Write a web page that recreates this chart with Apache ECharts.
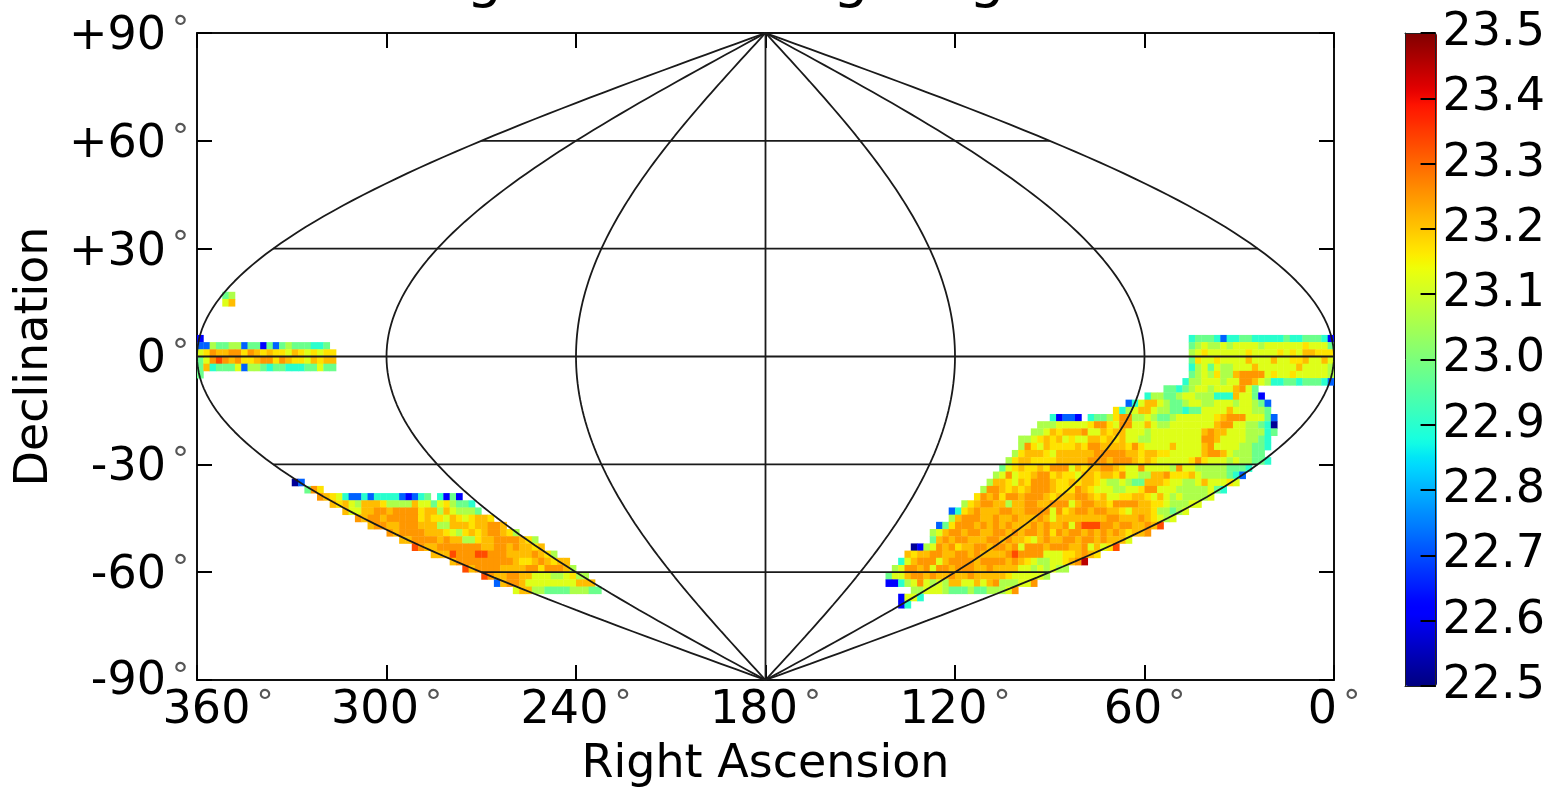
<!DOCTYPE html>
<html>
<head>
<meta charset="utf-8">
<style>html,body{margin:0;padding:0;background:#fff}#c{width:1548px;height:793px}</style>
<script src="https://cdn.jsdelivr.net/npm/echarts@6/dist/echarts.min.js"></script>
</head>
<body>
<div id="c"></div>
<script>
// magnitude read for each code used in the row strings
const levelValues = {a:22.52,'0':22.62,'1':22.72,'2':22.9,'3':22.98,'4':23.06,'5':23.12,'6':23.17,'7':23.21,'8':23.25,'9':23.33,b:23.45};
// declination of each row's upper edge, projected RA of its left edge, cell codes left to right ('_' = empty)
const rowDec = [18,16,6,4,2,0,-2,-4,
  -34,-36,-38,-40,-42,-44,-46,-48,-50,-52,-54,-56,-58,-60,-62,-64,
  6,4,2,0,-2,-4,-6,-8,-10,-12,-14,-16,-18,-20,-22,-24,-26,-28,-30,-32,-34,-36,-38,-40,-42,-44,-46,-48,-50,-52,-54,-56,-58,-60,-62,-64,-66,-68];
const rowRA = [352,352,360,360,360,360,360,360,
  330,326,322,318,314,310,306,300,296,292,286,280,276,270,266,260,
  46,46,46,46,46,46,48,54,60,66,70,90,94,96,100,100,102,104,106,108,110,112,114,118,122,122,126,128,128,134,136,138,140,142,142,134,138,138];
const rowCodes = [
  "34","57","0","114334413303134333223","5687788687676657656566","3589878667886876657677","3723335144323322233533","3",
  "a1","386","876521121222210123_2030","76754777644447553564332","7557788788886774754443","8788788888676657656776","7887788877744777677887",
  "878888777654676788764","7788887877446778888764","987788888887788787767","77798889988877778764","7888888888766787677","978888777788688874",
  "98778877555445644","1788755555555777","57744333344433",
  "23332122332222232233320","34544545555455555565553","45655555565555656577666","36556555575557556675575",
  "24535445557555555755554","34546447888856556555554","244555455887542233233321","332345545557853",
  "2443345544422275530","12577543345544555455431","6245775443323355557555443",
  "20110_233468844543345555556788855531","4445555568865885575445555555788554432a","445767778557677555455555555787755544423",
  "4456767565577676755445555555588755554432","4865766667688777768655557555578555544332","4677765777777888887767766555557887544433",
  "467766667777788878887676555556865554544332","3567667688857677887655855554855444443332","4585667886766577677685544778666754444321",
  "4776576888766767765445433777655445755565","488767678887666876555445568855544444532","68786887888767778876755667765754544445",
  "46788774778877888578877688887766544455","12678777887788885867887887765777644345","478887787787778757777777788777876545",
  "136888787878777878778589998878877879","45788788778878788786878878787876778","37878877788787765787788788787775",
  "a04587867788788785888788877857569","7677887788787777898888555667876","25788857888878888787654455678b","4588785887888778777755454544",
  "35578878778778777776555554","002458545477557578444558","44555433343344458","0552","02"
];
// colour bar and axis tick labels
const colorbarTicks = ["22.5","22.6","22.7","22.8","22.9","23.0","23.1","23.2","23.3","23.4","23.5"];
const titleText = "Image 5σ Limiting Magnitude";

const cells = [];
rowCodes.forEach(function (codes, r) {
  for (let i = 0; i < codes.length; i++) {
    if (codes[i] !== '_') cells.push([rowRA[r] - 2 * i, rowDec[r], levelValues[codes[i]]]);
  }
});

// matplotlib jet colour map
function piece(t, pts) {
  for (let i = 1; i < pts.length; i++) {
    if (t <= pts[i][0]) {
      const f = (t - pts[i - 1][0]) / (pts[i][0] - pts[i - 1][0]);
      return pts[i - 1][1] + f * (pts[i][1] - pts[i - 1][1]);
    }
  }
  return pts[pts.length - 1][1];
}
const jet = [];
for (let k = 0; k <= 128; k++) {
  const t = k / 128;
  const R = piece(t, [[0,0],[0.35,0],[0.66,1],[0.89,1],[1,0.5]]);
  const G = piece(t, [[0,0],[0.125,0],[0.375,1],[0.64,1],[0.91,0],[1,0]]);
  const B = piece(t, [[0,0.5],[0.11,1],[0.34,1],[0.65,0],[1,0]]);
  jet.push('rgb(' + Math.round(R * 255) + ',' + Math.round(G * 255) + ',' + Math.round(B * 255) + ')');
}

// sinusoidal graticule
const graticuleRA = [0,60,120,180,240,300,360];
const graticuleDec = [-60,-30,0,30,60];
const cosd = function (d) { return Math.cos(d * Math.PI / 180); };
const lines = [];
graticuleRA.forEach(function (ra) {
  const pts = [];
  for (let d = -90; d <= 90; d += 1.5) pts.push([180 + (ra - 180) * cosd(d), d]);
  lines.push(pts);
});
graticuleDec.forEach(function (d) {
  lines.push([[180 - 180 * cosd(d), d], [180 + 180 * cosd(d), d]]);
});

const font = 'DejaVu Sans';
const degStyle = {fontFamily: font, fontSize: 34, color: '#555', verticalAlign: 'top', lineHeight: 46, padding: [0, 0, 0, 6]};
const numStyle = {fontFamily: font, fontSize: 46, color: '#000', lineHeight: 46};

const frame = {show: true, onZero: false, lineStyle: {color: '#111', width: 2}};
const tick = {show: true, inside: true, length: 15, lineStyle: {color: '#000', width: 2}};

const option = {
  animation: false,
  backgroundColor: '#fff',
  title: {
    text: titleText, left: 772, top: -47, textAlign: 'center', padding: 0,
    textStyle: {fontFamily: font, fontSize: 56, fontWeight: 'normal', color: '#000'}
  },
  grid: [
    {left: 197, top: 33, width: 1137, height: 653},
    {left: 1405, top: 33, width: 32, height: 653, z: 6}
  ],
  xAxis: [
    {type: 'value', gridIndex: 0, inverse: true, min: 0, max: 360, interval: 60, position: 'bottom',
      axisLine: frame, axisTick: tick, splitLine: {show: false},
      name: 'Right Ascension', nameLocation: 'middle', nameGap: 62,
      nameTextStyle: {fontFamily: font, fontSize: 46, color: '#000'},
      axisLabel: {show: true, margin: 8, hideOverlap: false, showMinLabel: true, showMaxLabel: true,
        formatter: function (v) {
          return (v === 360 ? '{w|' + v + '}' : '{n|' + v + '}') + '{d|°}';
        },
        rich: {n: numStyle, d: degStyle, w: Object.assign({}, numStyle, {padding: [0, 0, 0, 42]})}
      }},
    {type: 'value', gridIndex: 0, inverse: true, min: 0, max: 360, interval: 60, position: 'top',
      axisLine: frame, axisTick: tick, axisLabel: {show: false}, splitLine: {show: false}},
    {type: 'value', gridIndex: 1, min: 0, max: 1, show: true, position: 'bottom',
      axisLine: {show: true, onZero: false, lineStyle: {color: '#222', width: 1}}, axisTick: {show: false}, axisLabel: {show: false}, splitLine: {show: false}, z: 8},
    {type: 'value', gridIndex: 1, min: 0, max: 1, show: true, position: 'top',
      axisLine: {show: true, onZero: false, lineStyle: {color: '#222', width: 1}}, axisTick: {show: false}, axisLabel: {show: false}, splitLine: {show: false}, z: 8}
  ],
  yAxis: [
    {type: 'value', gridIndex: 0, min: -90, max: 90, interval: 30, position: 'left',
      axisLine: frame, axisTick: tick, splitLine: {show: false},
      name: 'Declination', nameLocation: 'middle', nameGap: 138, nameRotate: 90,
      nameTextStyle: {fontFamily: font, fontSize: 46, color: '#000'},
      axisLabel: {show: true, margin: 8, padding: [8, 0, 0, 0], showMinLabel: true, showMaxLabel: true,
        formatter: function (v) {
          const txt = v > 0 ? '+' + v : String(v);
          return (v === -90 ? '{u|' + txt + '}' : '{n|' + txt + '}') + '{d|°}';
        },
        rich: {n: numStyle, d: degStyle, u: Object.assign({}, numStyle, {padding: [0, 0, 4, 0]})}
      }},
    {type: 'value', gridIndex: 0, min: -90, max: 90, interval: 30, position: 'right',
      axisLine: frame, axisTick: tick, axisLabel: {show: false}, splitLine: {show: false}},
    {type: 'value', gridIndex: 1, min: 22.5, max: 23.5, interval: 0.1, position: 'right',
      axisLine: {show: true, onZero: false, lineStyle: {color: '#222', width: 1}},
      axisTick: {show: true, inside: true, length: 15, lineStyle: {color: '#000', width: 2}},
      splitLine: {show: false}, z: 8,
      axisLabel: {show: true, margin: 7, fontFamily: font, fontSize: 46, color: '#000', showMinLabel: true, showMaxLabel: true,
        formatter: function (v) { return colorbarTicks[Math.round((v - 22.5) * 10)]; }}},
    {type: 'value', gridIndex: 1, min: 22.5, max: 23.5, position: 'left',
      axisLine: {show: true, onZero: false, lineStyle: {color: '#222', width: 1}},
      axisTick: {show: false}, axisLabel: {show: false}, splitLine: {show: false}, z: 8}
  ],
  visualMap: {
    type: 'continuous', min: 22.5, max: 23.5, dimension: 2, seriesIndex: 0,
    left: 1405, top: 33, itemWidth: 32, itemHeight: 653, padding: 0, text: null, showLabel: false,
    calculable: false, realtime: false, hoverLink: false, z: 1,
    inRange: {color: jet}
  },
  series: [
    {
      type: 'custom', xAxisIndex: 0, yAxisIndex: 0, z: 2, silent: true,
      encode: {x: 0, y: 1}, data: cells, clip: true,
      renderItem: function (params, api) {
        const p = api.coord([api.value(0), api.value(1)]);
        const s = api.size([2, 2]);
        return {
          type: 'rect',
          shape: {x: p[0], y: p[1], width: s[0] + 0.4, height: s[1] + 0.4},
          style: {fill: api.visual('color')}
        };
      }
    }
  ].concat(lines.map(function (pts) {
    return {
      type: 'line', xAxisIndex: 0, yAxisIndex: 0, z: 3, silent: true, showSymbol: false, symbol: 'none',
      lineStyle: {color: '#1a1a1a', width: 1.8}, data: pts, animation: false
    };
  }))
};
echarts.init(document.getElementById('c'), null, {renderer: 'canvas'}).setOption(option);
</script>
</body>
</html>
